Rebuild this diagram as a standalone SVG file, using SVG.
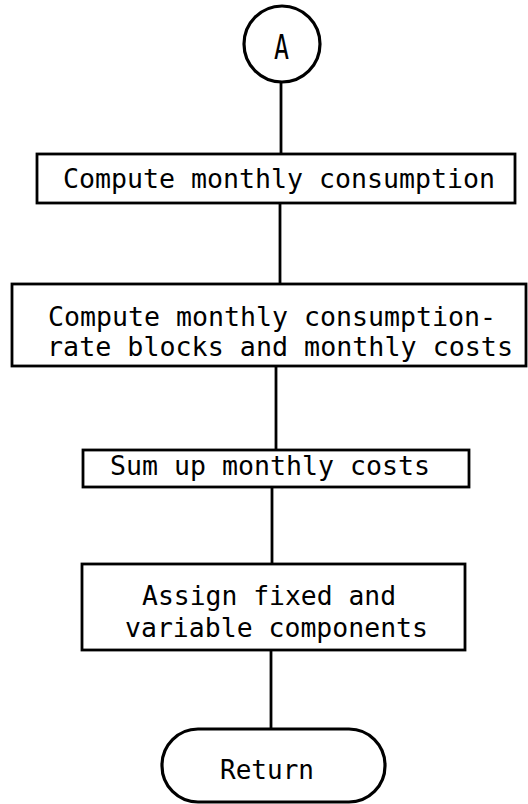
<svg xmlns="http://www.w3.org/2000/svg" width="528" height="804" viewBox="0 0 528 804">
  <style>
    .box { fill: #fff; stroke: #000; stroke-width: 2.8; }
    .term { fill: #fff; stroke: #000; stroke-width: 3.2; }
    .wire { fill: none; stroke: #000; stroke-width: 2.8; }
    .lbl { font-family: "DejaVu Sans Mono", "Liberation Mono", monospace; font-size: 26px; fill: #000; }
    .big { font-size: 33px; }
  </style>
  <rect x="0" y="0" width="528" height="804" fill="#fff"/>

  <!-- connectors -->
  <g id="connectors">
    <line class="wire" x1="281" y1="83" x2="281" y2="154"/>
    <line class="wire" x1="280" y1="203" x2="280" y2="284"/>
    <line class="wire" x1="276" y1="366" x2="276" y2="450"/>
    <line class="wire" x1="272" y1="487" x2="272" y2="564"/>
    <line class="wire" x1="271" y1="650" x2="271" y2="729"/>
  </g>

  <!-- on-page connector A -->
  <g id="start">
    <circle class="term" cx="282" cy="44" r="38"/>
    <text class="lbl big" x="274" y="59" textLength="15" lengthAdjust="spacingAndGlyphs">A</text>
  </g>

  <g id="consumption">
    <rect class="box" x="37" y="154" width="478" height="49"/>
    <text class="lbl" x="63" y="188" textLength="432" lengthAdjust="spacingAndGlyphs">Compute monthly consumption</text>
  </g>

  <g id="rate-blocks">
    <rect class="box" x="12" y="284" width="514" height="82"/>
    <text class="lbl" x="48" y="326" textLength="448" lengthAdjust="spacingAndGlyphs">Compute monthly consumption-</text>
    <text class="lbl" x="47" y="356" textLength="466" lengthAdjust="spacingAndGlyphs">rate blocks and monthly costs</text>
  </g>

  <g id="sum-costs">
    <rect class="box" x="83" y="450" width="386" height="37"/>
    <text class="lbl" x="110" y="475" textLength="320" lengthAdjust="spacingAndGlyphs">Sum up monthly costs</text>
  </g>

  <g id="assign">
    <rect class="box" x="82" y="564" width="383" height="86"/>
    <text class="lbl" x="142" y="605" textLength="254" lengthAdjust="spacingAndGlyphs">Assign fixed and</text>
    <text class="lbl" x="125" y="637" textLength="303" lengthAdjust="spacingAndGlyphs">variable components</text>
  </g>

  <g id="return">
    <rect class="term" x="162" y="729" width="223" height="73" rx="36" ry="36"/>
    <text class="lbl" x="220" y="779" textLength="94" lengthAdjust="spacingAndGlyphs">Return</text>
  </g>
</svg>
